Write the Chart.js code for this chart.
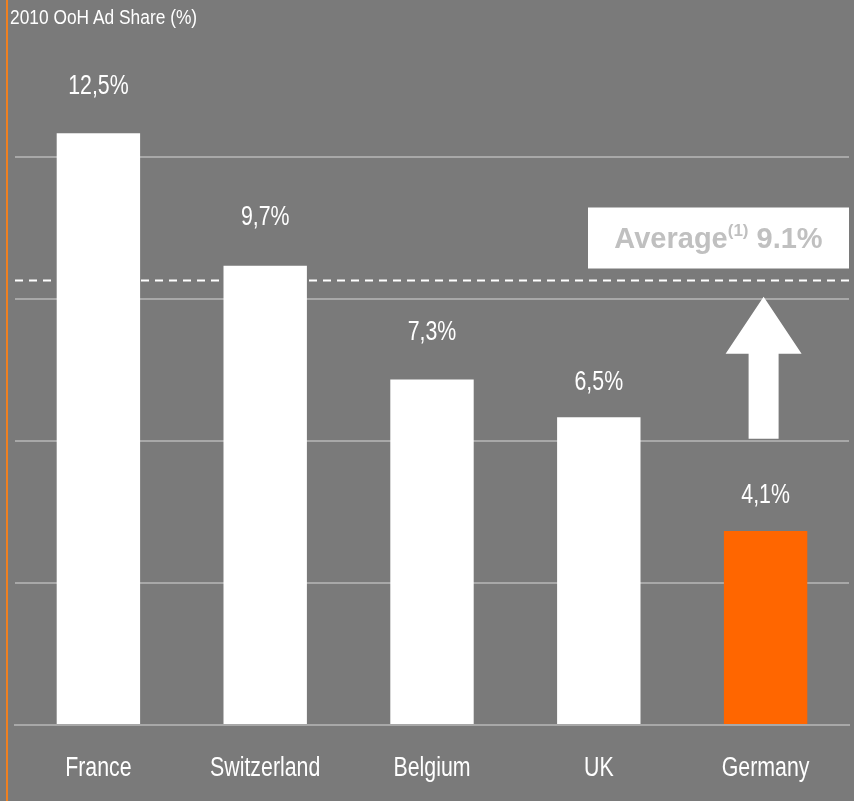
<!doctype html>
<html lang="en">
<head>
<meta charset="utf-8">
<title>2010 OoH Ad Share</title>
<style>
  html, body { margin: 0; padding: 0; background: #7a7a7a; }
  #wrap { position: relative; width: 854px; height: 801px; overflow: hidden; }
  #orangeLine { position: absolute; left: 6px; top: 0; width: 2px; height: 801px; background: #f08020; }
  #title { position: absolute; left: 10px; top: 7px; color: #fff; font: 19.5px/20px "Liberation Sans", Arial, sans-serif;
           white-space: nowrap; transform: scaleX(0.89); transform-origin: left top; }
</style>
</head>
<body>
<div id="wrap">
  <div id="orangeLine"></div>
  <canvas id="myChart_Bar" width="854" height="801"></canvas>
  <div id="title">2010 OoH Ad Share (%)</div>
</div>

<script src="https://cdn.jsdelivr.net/npm/chart.js"></script>
<script>
  // data
  const countries = ['France', 'Switzerland', 'Belgium', 'UK', 'Germany'];
  const shares = [12.5, 9.7, 7.3, 6.5, 4.1];
  const shareLabels = ['12,5%', '9,7%', '7,3%', '6,5%', '4,1%'];
  const barColors = ['#ffffff', '#ffffff', '#ffffff', '#ffffff', '#ff6600'];
  const averageText = 'Average';
  const averageNote = '(1)';
  const averageValueText = '9.1%';
  const averageLine = 9.4;   // where the dashed line sits
  const arrowFrom = 6.05;
  const arrowTo = 9.05;
  const yTicks = [0, 3, 6, 9, 12];

  // gap between bar top and the middle of its value label (px)
  const labelGaps = [47, 48, 47, 35, 35];
  const narrowScale = 0.79;  // fake Arial Narrow with a squeezed Liberation Sans

  function narrowText(ctx, text, x, y, size){
    ctx.save();
    ctx.font = size + 'px "Liberation Sans", Arial, sans-serif';
    ctx.translate(x, y);
    ctx.scale(narrowScale, 1);
    ctx.fillText(text, 0, 0);
    ctx.restore();
  }

  // values above the bars and category names under the axis
  const barText = {
    id: 'barText',
    afterDatasetsDraw(chart) {
      const ctx = chart.ctx;
      const meta = chart.getDatasetMeta(0);
      const xScale = chart.scales.x;
      ctx.save();
      ctx.fillStyle = '#ffffff';
      ctx.textAlign = 'center';
      ctx.textBaseline = 'middle';
      meta.data.forEach(function(bar, i){
        narrowText(ctx, shareLabels[i], bar.x, bar.y - labelGaps[i], 27);
      });
      chart.data.labels.forEach(function(lab, i){
        narrowText(ctx, lab, xScale.getPixelForTick(i), chart.chartArea.bottom + 44, 27);
      });
      ctx.restore();
    }
  };

  // dashed average line, box and arrow
  const averageMark = {
    id: 'averageMark',
    afterDatasetsDraw(chart) {
      const ctx = chart.ctx;
      const y = chart.scales.y;
      const area = chart.chartArea;
      const last = chart.getDatasetMeta(0).data[shares.length - 1];

      ctx.save();
      // dashed line
      const ly = Math.round(y.getPixelForValue(averageLine)) + 0.5;
      ctx.strokeStyle = '#ffffff';
      ctx.lineWidth = 2;
      ctx.setLineDash([8, 6]);
      ctx.beginPath();
      ctx.moveTo(area.left, ly);
      ctx.lineTo(area.right + 5, ly);
      ctx.stroke();
      ctx.setLineDash([]);

      // box
      const boxTop = ly - 73, boxBottom = ly - 12;
      const boxLeft = 588, boxRight = 849;
      ctx.fillStyle = '#ffffff';
      ctx.fillRect(boxLeft, boxTop, boxRight - boxLeft, boxBottom - boxTop);

      // box text
      ctx.fillStyle = '#c0c0c0';
      ctx.textBaseline = 'alphabetic';
      ctx.textAlign = 'left';
      const big = 'bold 29px "Liberation Sans", Arial, sans-serif';
      const small = 'bold 17px "Liberation Sans", Arial, sans-serif';
      ctx.font = big;
      const w1 = ctx.measureText(averageText).width;
      const w3 = ctx.measureText(' ' + averageValueText).width;
      ctx.font = small;
      const w2 = ctx.measureText(averageNote).width;
      let tx = (boxLeft + boxRight) / 2 - (w1 + w2 + w3) / 2;
      const base = (boxTop + boxBottom) / 2 + 10;
      ctx.font = big;
      ctx.fillText(averageText, tx, base);
      tx += w1;
      ctx.font = small;
      ctx.fillText(averageNote, tx, base - 12);
      tx += w2;
      ctx.font = big;
      ctx.fillText(' ' + averageValueText, tx, base);

      // arrow
      const cx = last.x - 2;
      const tip = y.getPixelForValue(arrowTo);
      const bottom = y.getPixelForValue(arrowFrom);
      const headBase = tip + 57;
      ctx.fillStyle = '#ffffff';
      ctx.beginPath();
      ctx.moveTo(cx, tip);
      ctx.lineTo(cx + 38, headBase);
      ctx.lineTo(cx + 15, headBase);
      ctx.lineTo(cx + 15, bottom);
      ctx.lineTo(cx - 15, bottom);
      ctx.lineTo(cx - 15, headBase);
      ctx.lineTo(cx - 38, headBase);
      ctx.closePath();
      ctx.fill();
      ctx.restore();
    }
  };

  const data = {
    labels: countries,
    datasets: [{
      label: '2010 OoH Ad Share (%)',
      data: shares,
      backgroundColor: barColors,
      borderWidth: 0,
      barPercentage: 0.5,
      categoryPercentage: 1.0
    }]
  };

  const config = {
    type: 'bar',
    data: data,
    options: {
      responsive: false,
      animation: false,
      layout: { padding: { top: 15, left: 15, right: 5, bottom: 0 } },
      plugins: {
        legend: { display: false },
        tooltip: { enabled: false }
      },
      scales: {
        x: {
          grid: { display: false, drawTicks: false },
          border: { display: true, color: '#a8a8a8', width: 2 },
          ticks: { display: false },
          afterFit: function(axis){ axis.height = 76; }
        },
        y: {
          min: 0,
          max: 15,
          afterBuildTicks: function(axis){
            axis.ticks = yTicks.map(function(v){ return { value: v }; });
          },
          grid: {
            color: '#a8a8a8',
            lineWidth: 2,
            drawTicks: false
          },
          border: { display: false },
          ticks: { display: false }
        }
      }
    },
    plugins: [barText, averageMark]
  };

  const myChart = new Chart(document.getElementById('myChart_Bar'), config);
</script>
</body>
</html>
